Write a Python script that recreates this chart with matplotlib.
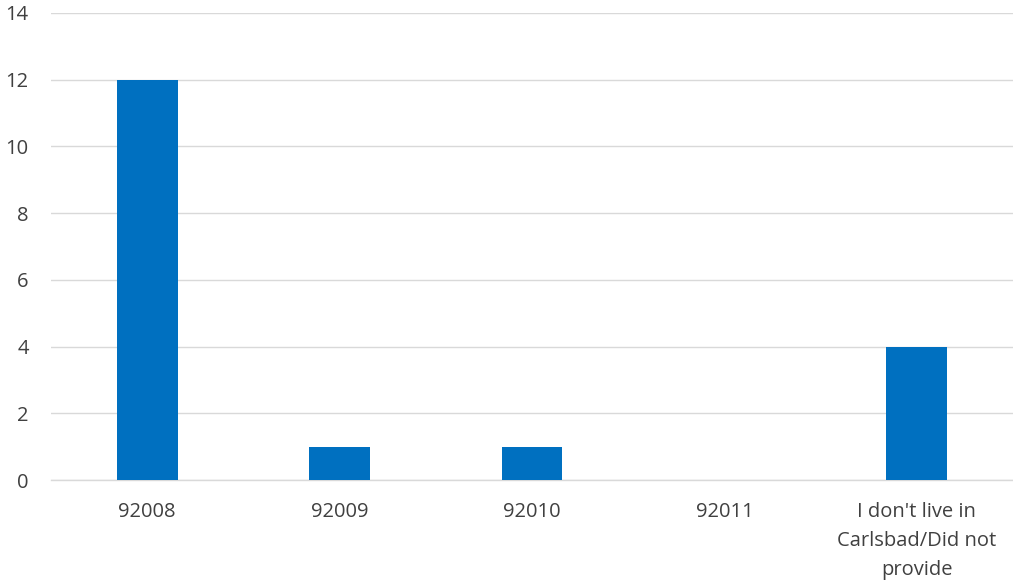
import matplotlib
matplotlib.use("Agg")
import matplotlib.pyplot as plt

# Respondent counts by zip code
categories = ["92008", "92009", "92010", "92011",
              "I don't live in\nCarlsbad/Did not\nprovide"]
counts = [12, 1, 1, 0, 4]
y_ticks = [0, 2, 4, 6, 8, 10, 12, 14]

plt.rcParams['font.family'] = ['Open Sans', 'DejaVu Sans']

fig = plt.figure(figsize=(10.13, 5.82), dpi=100)
ax = fig.add_axes([51 / 1013, 1 - 480 / 582, 962 / 1013, 467 / 582])

x = range(len(categories))
ax.bar(x, counts, width=0.317, color="#0070C0", zorder=3)

ax.set_xlim(-0.5, len(categories) - 0.5)
ax.set_ylim(0, 14)
ax.set_yticks(y_ticks)
ax.set_xticks(list(x))
ax.set_xticklabels(categories, linespacing=1.6)

ax.grid(axis="y", color="#D9D9D9", linewidth=1, zorder=0)
for side in ["top", "right", "left"]:
    ax.spines[side].set_visible(False)
ax.spines["bottom"].set_color("#D9D9D9")
ax.spines["bottom"].set_linewidth(1)

ax.tick_params(axis="both", length=0, labelsize=14.5, colors="#404040")
ax.tick_params(axis="y", pad=16)
ax.tick_params(axis="x", pad=16)

fig.savefig("out.png", dpi=100)
